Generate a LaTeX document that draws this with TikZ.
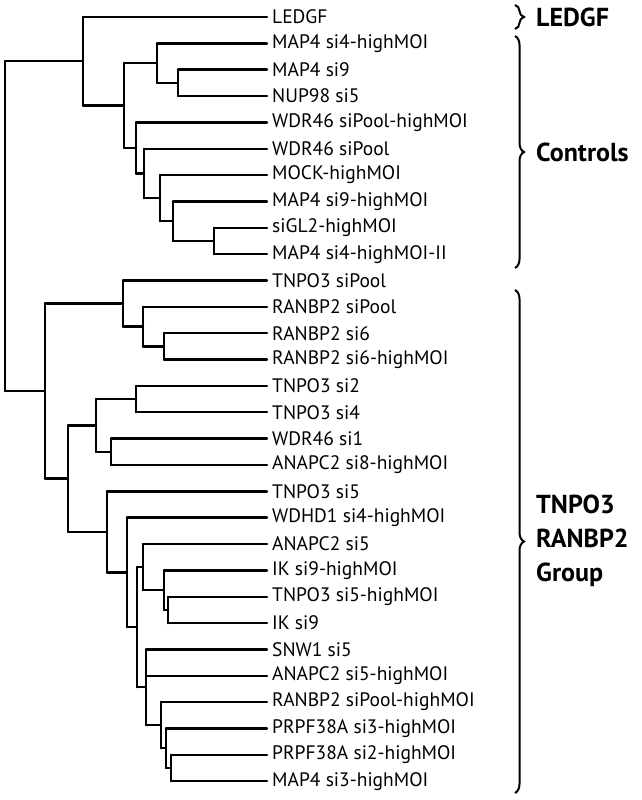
\documentclass[tikz,border=0pt]{standalone}
\usepackage{fontspec}
\setmainfont{PT Sans}
\usetikzlibrary{calc,decorations.pathreplacing}
\begin{document}
\begin{tikzpicture}[x=1pt,y=-1pt,
  br/.style={line width=2.4pt,line cap=round},
  lab/.style={anchor=west,inner sep=0pt,font=\fontsize{19.5}{22}\selectfont},
  grp/.style={anchor=west,inner sep=0pt,font=\fontsize{26}{30}\selectfont\bfseries,align=left},
  brc/.style={line width=2pt,decorate,decoration={brace,amplitude=9pt}}]
\useasboundingbox (0,0) rectangle (641,800);
\foreach \t [count=\i] in {LEDGF,MAP4 si4-highMOI,MAP4 si9,NUP98 si5,WDR46 siPool-highMOI,WDR46 siPool,MOCK-highMOI,MAP4 si9-highMOI,siGL2-highMOI,MAP4 si4-highMOI-II,TNPO3 siPool,RANBP2 siPool,RANBP2 si6,RANBP2 si6-highMOI,TNPO3 si2,TNPO3 si4,WDR46 si1,ANAPC2 si8-highMOI,TNPO3 si5,WDHD1 si4-highMOI,ANAPC2 si5,IK si9-highMOI,TNPO3 si5-highMOI,IK si9,SNW1 si5,ANAPC2 si5-highMOI,RANBP2 siPool-highMOI,PRPF38A si3-highMOI,PRPF38A si2-highMOI,MAP4 si3-highMOI}{
  \coordinate (L\i) at (267,{17+(\i-1)*26.35});
  \node[lab] (t\i) at (272,{17+(\i-1)*26.35}) {\t};
}
\newcommand\clade[4]{% name, x, first, last
  \path let \p1=($(#3)!.5!(#4)$) in coordinate (#1) at (#2,\y1);
  \draw[br] (#1 |- #3) -- (#1 |- #4);
  \draw[br] (#1 |- #3) -- (#3);
  \draw[br] (#1 |- #4) -- (#4);
}
\clade{a}{214}{L9}{L10}
\clade{b}{173}{L8}{a}
\clade{c}{160}{L7}{b}
\clade{d}{144}{L6}{c}
\clade{e}{136}{L5}{d}
\clade{f}{178}{L3}{L4}
\clade{g}{157}{L2}{f}
\clade{h}{124}{g}{e}
\clade{i}{83}{L1}{h}
\clade{j}{164}{L13}{L14}
\clade{k}{143}{L12}{j}
\clade{l}{123}{L11}{k}
\clade{m}{136}{L15}{L16}
\clade{n}{111}{L17}{L18}
\clade{o}{96}{m}{n}
\clade{p}{168}{L23}{L24}
\clade{q}{164}{L22}{p}
\clade{r}{143}{L21}{q}
\clade{s}{171}{L29}{L30}
\clade{t}{166}{L28}{s}
\clade{u}{161}{L27}{t}
\clade{v}{146}{L25}{u}
\draw[br] (v |- L26) -- (L26);
\clade{w}{137}{r}{v}
\clade{x}{127}{L20}{w}
\clade{y}{107}{L19}{x}
\clade{z}{68}{o}{y}
\clade{zz}{45}{l}{z}
\clade{root}{5}{i}{zz}
\coordinate (b1t) at (515,5); \coordinate (b1b) at (515,29);
\coordinate (b2t) at (515,36); \coordinate (b2b) at (515,268);
\coordinate (b3t) at (515,290); \coordinate (b3b) at (515,793);
\draw[brc] (b1t) -- (b1b);
\draw[brc] (b2t) -- (b2b);
\draw[brc] (b3t) -- (b3b);
\node[grp] (gl) at (536,17) {LEDGF};
\node[grp] (gc) at (536,152) {Controls};
\node[grp] (gt) at (536,541) {TNPO3\\[4pt]RANBP2\\[4pt]Group};
\end{tikzpicture}
\end{document}
